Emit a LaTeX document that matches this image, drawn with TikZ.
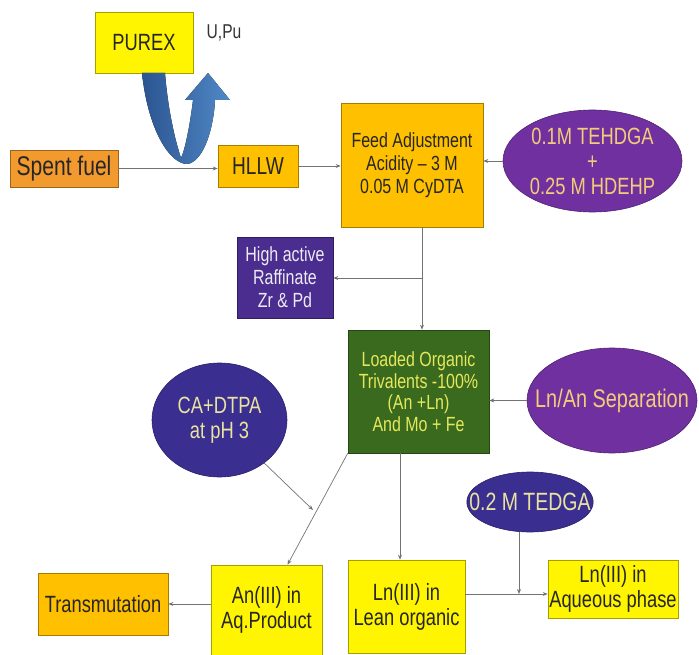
\documentclass[tikz,border=0pt]{standalone}
\usepackage{fontspec}
\setmainfont{Liberation Sans}[FakeStretch=0.78]
\usepackage{tikz}
\usetikzlibrary{arrows.meta,positioning,shapes.geometric,calc}
\definecolor{lemon}{HTML}{FFF500}
\definecolor{amber}{HTML}{FFC000}
\definecolor{rust}{HTML}{F29A2E}
\definecolor{leaf}{HTML}{3A6A1E}
\definecolor{plum}{HTML}{7030A0}
\definecolor{ink}{HTML}{3A2E90}
\definecolor{indigo}{HTML}{4B2D8F}
\definecolor{gold}{HTML}{F3CC7A}
\definecolor{cream}{HTML}{E9E3A0}
\definecolor{lime}{HTML}{E6E85C}
\definecolor{deepblue}{HTML}{2B5591}
\definecolor{skyblue}{HTML}{5088C6}

\begin{document}
\begin{tikzpicture}[
			x=1pt,y=-1pt,
			every node/.style={align=center,inner sep=0pt,font=\fontsize{23.5}{25}\selectfont},
			box/.style={draw=#1!65!black,fill=#1,text=black!85,line width=0.6pt},
			oval/.style={ellipse,draw=#1!70!black,fill=#1,line width=0.6pt},
			arr/.style={-{Stealth[length=5pt,width=4pt]},draw=black!55,line width=0.7pt}
			]
			\useasboundingbox (0,0) rectangle (699,655);
			% top row
			\node[box=lemon,minimum width=98pt,minimum height=61pt] (purex) at (144,42.5) {PUREX};
			\node[font=\fontsize{20}{22}\selectfont,text=black!80] (upu) at (224,33) {U,Pu};
			\node[box=rust,minimum width=108pt,minimum height=37pt,font=\fontsize{27}{28}\selectfont] (spent) at (64,168.5) {Spent fuel};
			\node[box=amber,minimum width=80pt,minimum height=42pt,font=\fontsize{24.5}{26}\selectfont] (hllw) at (258,166) {HLLW};
			\node[box=amber,minimum width=142pt,minimum height=124pt,font=\fontsize{20.5}{23}\selectfont] (feed) at (412,165) {Feed Adjustment\\Acidity -- 3 M\\0.05 M CyDTA};
			\node[oval=plum,minimum width=179pt,minimum height=102pt,text=gold] (tehd) at (592.5,161) {0.1M TEHDGA\\+\\0.25 M HDEHP};
			% middle
			\node[box=indigo,minimum width=96pt,minimum height=81pt,text=white!90!indigo,font=\fontsize{20.5}{23}\selectfont] (raff) at (285,277.5) {High active\\Raffinate\\Zr \& Pd};
			\node[box=leaf,minimum width=141pt,minimum height=123pt,text=lime,font=\fontsize{20.5}{21.5}\selectfont] (loaded) at (418.5,391.5) {Loaded Organic\\Trivalents -100\%\\(An +Ln)\\And Mo + Fe};
			\node[oval=plum,minimum width=170pt,minimum height=105pt,inner xsep=-17pt,text=gold,font=\fontsize{25.5}{27}\selectfont] (sep) at (612,400.5) {Ln/An Separation};
			\node[oval=ink,minimum width=135pt,minimum height=114pt,text=cream] (ca) at (219.5,420) {CA+DTPA\\at pH 3};
			\node[oval=ink,minimum width=124pt,minimum height=60pt,inner xsep=-16pt,text=cream,font=\fontsize{25}{27}\selectfont] (tedga) at (530,502) {0.2 M TEDGA};
			% bottom row
			\node[box=amber,minimum width=130pt,minimum height=62pt] (trans) at (103,604) {Transmutation};
			\node[box=lemon,minimum width=111pt,minimum height=90pt] (an) at (266.5,610) {An(III) in\\Aq.Product};
			\node[box=lemon,minimum width=117pt,minimum height=93pt] (lean) at (406.5,606.5) {Ln(III) in\\Lean organic};
			\node[box=lemon,minimum width=130pt,minimum height=58pt] (aq) at (613,589) {Ln(III) in\\Aqueous phase};
			% U-turn arrow out of PUREX
			\fill[left color=deepblue,right color=skyblue]
				(142,73) .. controls (148,130) and (170,165) .. (188,164)
				.. controls (205,160) and (214,125) .. (215,100)
				-- (230,100) -- (208,73) -- (185,100) -- (193,100)
				.. controls (190,125) and (185,150) .. (181,158)
				.. controls (175,140) and (168,110) .. (165,73) -- cycle;
			% connectors
			\coordinate (br) at (422,278);
			\coordinate (hit) at (313,510);
			\coordinate (jn) at (519,594);
			\draw[arr] (spent.east) -- (spent.east -| hllw.west);
			\draw[arr] (hllw.east) -- (hllw.east -| feed.west);
			\draw[arr] (tehd.west) -- (tehd.west -| feed.east);
			\draw[arr] (feed.south -| br) -- (loaded.north -| br);
			\draw[arr] (br) -- (br -| raff.east);
			\draw[arr] (sep.west) -- (sep.west -| loaded.east);
			\draw[arr] ([xshift=-18.5pt]loaded.south) -- ([xshift=-18.5pt]loaded.south |- lean.north);
			\draw[arr] (loaded.south west) -- ([xshift=21pt]an.north);
			\draw[arr] (ca) -- (hit);
			\draw[arr] (an.west |- trans) -- (trans.east);
			\draw[arr] (lean.east |- jn) -- (aq.west |- jn);
			\draw[arr] (tedga.south -| jn) -- (jn);
		\end{tikzpicture}
\end{document}
